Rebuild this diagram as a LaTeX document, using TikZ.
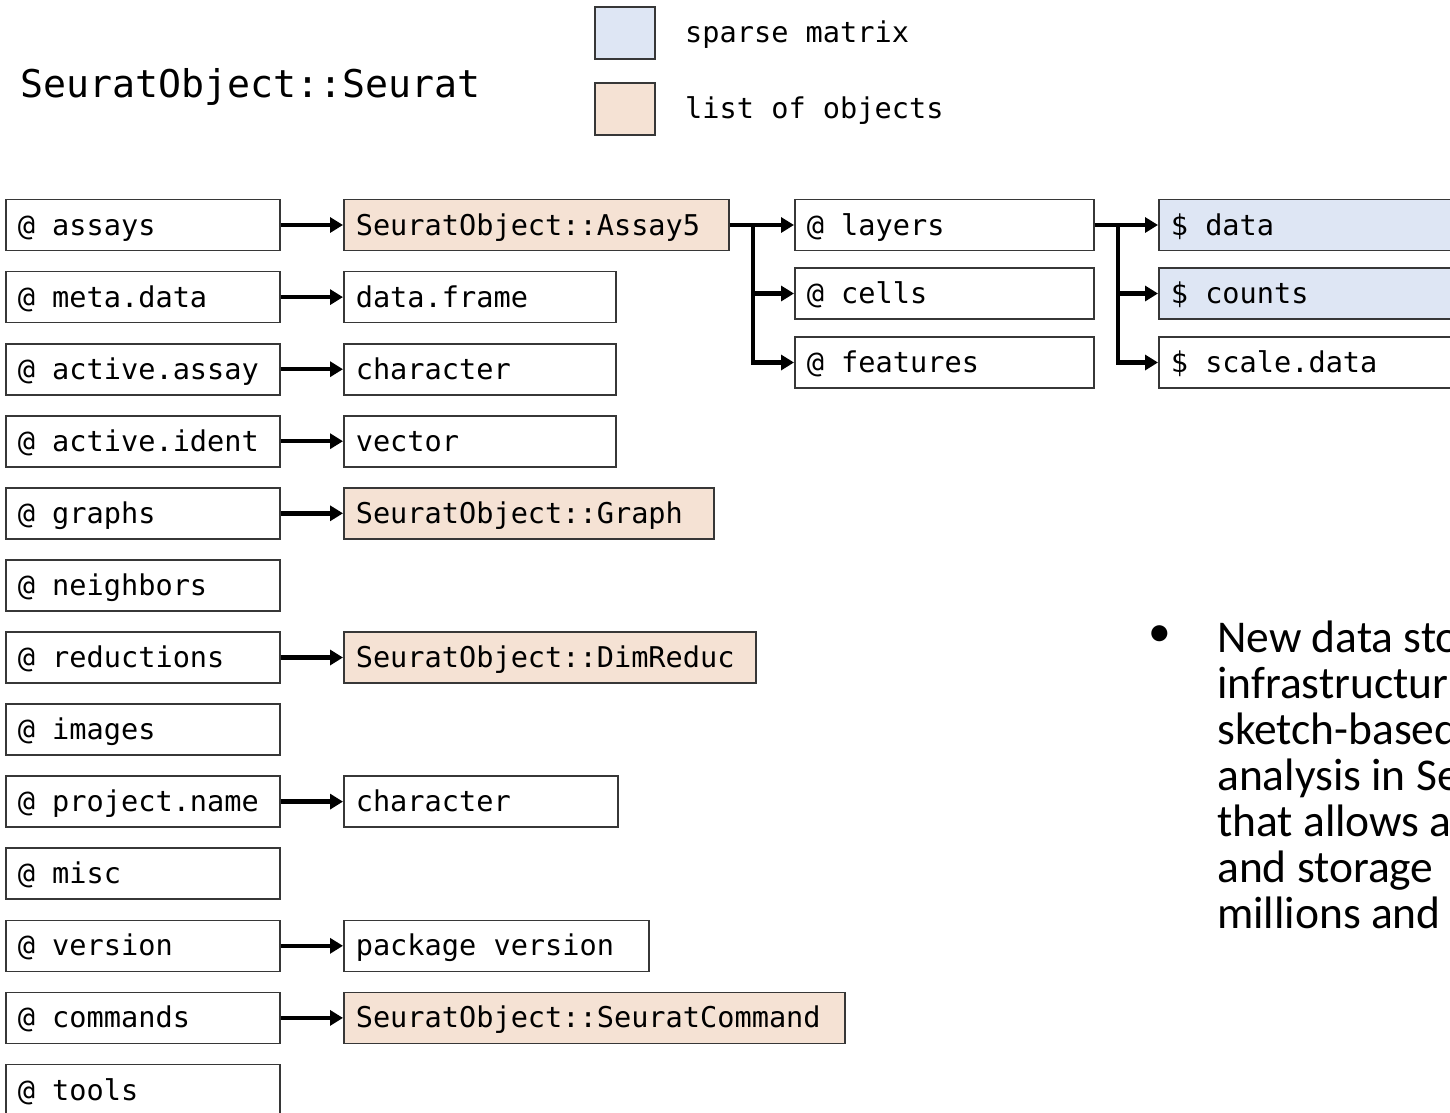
\documentclass[tikz,border=0pt]{standalone}
\usepackage{fontspec}
\newfontfamily\monof{DejaVu Sans Mono}
\newfontfamily\calf{Carlito}
\usetikzlibrary{arrows.meta}
\definecolor{sparseblue}{RGB}{222,230,244}
\definecolor{listpeach}{RGB}{245,226,212}
\definecolor{edgegray}{RGB}{55,55,55}
\newcommand\monobox{\monof\fontsize{28.6}{34}\selectfont}
\begin{document}
\begin{tikzpicture}[x=1pt,y=-1pt,
  slot/.style={draw=edgegray, line width=1.6pt, fill=white, minimum height=51pt,
    inner xsep=12pt, inner ysep=0pt, anchor=west, align=flush left,
    font=\monobox, text height=23pt, text depth=3pt},
  listobj/.style={slot, fill=listpeach},
  sparse/.style={slot, fill=sparseblue},
  arr/.style={line width=4.5pt, -{Triangle[length=13pt,width=15pt]}},
  legendbox/.style={draw=edgegray, line width=1.6pt, minimum width=60pt, minimum height=52pt, inner sep=0pt},
  legendtxt/.style={anchor=west, inner sep=0pt, font=\monobox, text height=22pt, text depth=4pt},
  bul/.style={anchor=base west, inner sep=0pt, font=\calf\fontsize{45.5}{50}\selectfont}
]
\useasboundingbox[fill=white] (0,0) rectangle (1450,1112);

% title and legend
\node[anchor=base west, inner sep=0pt, font=\monof\fontsize{38.2}{44}\selectfont] (title) at (20,97) {SeuratObject::Seurat};
\node[legendbox, fill=sparseblue] (lgs) at (625,33) {};
\node[legendbox, fill=listpeach] (lgl) at (625,109) {};
\node[legendtxt] (lgst) at (685,33) {sparse matrix};
\node[legendtxt] (lglt) at (685,109) {list of objects};

% left column (slots)
\node[slot, text width=250pt] (assays) at (5,225) {@ assays};
\node[slot, text width=250pt] (meta) at (5,297.1) {@ meta.data};
\node[slot, text width=250pt] (aassay) at (5,369.2) {@ active.assay};
\node[slot, text width=250pt] (aident) at (5,441.2) {@ active.ident};
\node[slot, text width=250pt] (graphs) at (5,513.3) {@ graphs};
\node[slot, text width=250pt] (neigh) at (5,585.4) {@ neighbors};
\node[slot, text width=250pt] (reduc) at (5,657.5) {@ reductions};
\node[slot, text width=250pt] (images) at (5,729.6) {@ images};
\node[slot, text width=250pt] (pname) at (5,801.6) {@ project.name};
\node[slot, text width=250pt] (misc) at (5,873.7) {@ misc};
\node[slot, text width=250pt] (version) at (5,945.8) {@ version};
\node[slot, text width=250pt] (commands) at (5,1017.9) {@ commands};
\node[slot, text width=250pt] (tools) at (5,1090) {@ tools};

% second column (types)
\node[listobj, text width=361pt] (assay5) at (343,225) {SeuratObject::Assay5};
\node[slot, text width=248pt] (dframe) at (343,297.1) {data.frame};
\node[slot, text width=248pt] (charA) at (343,369.2) {character};
\node[slot, text width=248pt] (vect) at (343,441.2) {vector};
\node[listobj, text width=346pt] (graph) at (343,513.3) {SeuratObject::Graph};
\node[listobj, text width=388pt] (dimred) at (343,657.5) {SeuratObject::DimReduc};
\node[slot, text width=250pt] (charB) at (343,801.6) {character};
\node[slot, text width=281pt] (pkgver) at (343,945.8) {package version};
\node[listobj, text width=477pt] (scmd) at (343,1017.9) {SeuratObject::SeuratCommand};

% third column (Assay5 slots)
\node[slot, text width=275pt] (layers) at (794,225) {@ layers};
\node[slot, text width=275pt] (cells) at (794,293.5) {@ cells};
\node[slot, text width=275pt] (feats) at (794,362.5) {@ features};

% fourth column (layers)
\node[sparse, text width=338pt] (ldata) at (1158,225) {\$ data};
\node[sparse, text width=338pt] (lcounts) at (1158,293.5) {\$ counts};
\node[slot, text width=338pt] (lscale) at (1158,362.5) {\$ scale.data};

% connectors
\draw[arr] (assays.east) -- (assay5.west);
\draw[arr] (meta.east) -- (dframe.west);
\draw[arr] (aassay.east) -- (charA.west);
\draw[arr] (aident.east) -- (vect.west);
\draw[arr] (graphs.east) -- (graph.west);
\draw[arr] (reduc.east) -- (dimred.west);
\draw[arr] (pname.east) -- (charB.west);
\draw[arr] (version.east) -- (pkgver.west);
\draw[arr] (commands.east) -- (scmd.west);

\coordinate (j1) at (753,225);
\draw[arr] (assay5.east) -- (layers.west);
\draw[arr] (j1) |- (cells.west);
\draw[arr] (j1) |- (feats.west);

\coordinate (j2) at (1118,225);
\draw[arr] (layers.east) -- (ldata.west);
\draw[arr] (j2) |- (lcounts.west);
\draw[arr] (j2) |- (lscale.west);

% bullet text
\node[anchor=center, inner sep=0pt, font=\calf\fontsize{45.5}{50}\selectfont] (dot) at (1160,636) {•};
\node[bul] (b1) at (1217,652) {New data sto};
\node[bul] (b2) at (1217,698) {infrastructur};
\node[bul] (b3) at (1217,744) {sketch-based};
\node[bul] (b4) at (1217,790) {analysis in Se};
\node[bul] (b5) at (1217,836) {that allows a};
\node[bul] (b6) at (1217,882) {and storage};
\node[bul] (b7) at (1217,928) {millions and};
\end{tikzpicture}
\end{document}
